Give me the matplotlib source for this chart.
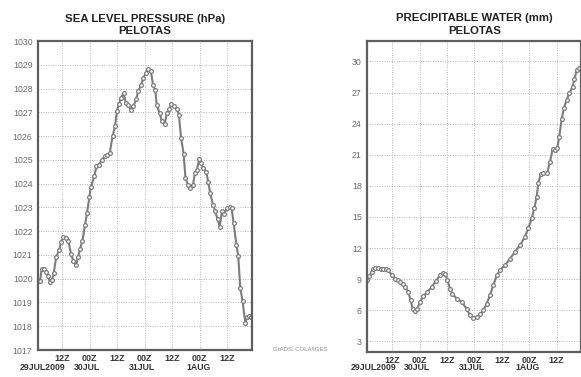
import matplotlib
matplotlib.use('Agg')
import matplotlib.pyplot as plt
import matplotlib.transforms as mtransforms
import numpy as np

plt.rc('font', **{'family': 'sans-serif', 'sans-serif': ['Liberation Sans', 'DejaVu Sans']})

# hours since 29JUL2009 00Z
slp_hours = [1.6, 2.4, 3.1, 4.0, 5.0, 5.9, 6.7, 7.6, 8.4, 9.4, 10.7, 11.7, 12.6, 13.7,
             14.7, 15.9, 16.9, 18.1, 19.0, 19.8, 20.9, 22.0, 22.9, 23.9, 24.5, 26.0,
             27.0, 28.1, 29.3, 30.5, 31.5, 32.8, 34.0, 35.1, 35.9, 36.7, 37.7, 38.8,
             39.8, 40.9, 42.1, 43.1, 44.3, 45.2, 46.4, 47.5, 48.5, 49.5, 50.7, 51.7,
             52.6, 53.3, 54.5, 55.5, 56.7, 57.7, 58.7, 59.7, 60.9, 62.1, 62.9, 63.9,
             65.0, 65.8, 66.9, 67.9, 69.1, 69.9, 70.8, 71.8, 72.7, 73.4, 74.9, 75.7,
             76.6, 77.8, 78.8, 79.8, 80.7, 81.7, 82.7, 83.9, 85.0, 85.9, 86.8, 88.0,
             88.8, 89.7, 90.7, 91.9, 92.6, 93.3, 94.4]
slp = [1019.92, 1019.9, 1020.4, 1020.4, 1020.3, 1020.1, 1019.87, 1019.95, 1020.25,
       1020.9, 1021.2, 1021.56, 1021.75, 1021.7, 1021.6, 1021.05, 1020.76, 1020.58,
       1020.93, 1021.24, 1021.6, 1022.27, 1022.78, 1023.43, 1023.84, 1024.3, 1024.73,
       1024.8, 1024.98, 1025.15, 1025.22, 1025.29, 1025.99, 1026.41, 1027.05, 1027.33,
       1027.61, 1027.82, 1027.4, 1027.29, 1027.08, 1027.26, 1027.54, 1027.89, 1028.13,
       1028.46, 1028.64, 1028.81, 1028.73, 1028.13, 1027.93, 1027.29, 1026.98, 1026.62,
       1026.49, 1026.98, 1027.12, 1027.33, 1027.26, 1027.12, 1026.9, 1025.92, 1025.26,
       1024.24, 1023.95, 1023.81, 1023.95, 1024.45, 1024.59, 1025.04, 1024.87, 1024.66,
       1024.51, 1024.05, 1023.6, 1023.11, 1022.83, 1022.51, 1022.19, 1022.83, 1022.73,
       1022.97, 1023.01, 1022.97, 1022.34, 1021.42, 1020.97, 1019.6, 1019.06, 1018.12,
       1018.4, 1018.43, 1018.4]

pw_hours = [1.05, 2.0, 2.98, 3.7, 4.42, 5.87, 7.0, 8.06, 9.2, 10.25, 11.74, 13.18, 14.3,
            15.37, 16.5, 17.56, 19.01, 20.06, 20.94, 21.94, 22.95, 24.13, 25.58, 27.33,
            29.26, 31.14, 32.89, 34.08, 35.08, 36.09, 37.27, 38.28, 40.21, 42.4, 44.59,
            46.03, 47.48, 48.97, 50.41, 51.86, 53.35, 54.79, 56.24, 57.73, 59.17, 61.36,
            63.55, 65.74, 67.93, 70.12, 71.57, 73.06, 74.2, 75.25, 75.95, 77.0, 78.14,
            79.89, 81.08, 82.26, 83.27, 84.27, 85.15, 86.2, 87.21, 88.39, 89.53, 91.02,
            91.82, 92.83, 94.0]
pw = [8.89, 9.3, 9.69, 9.95, 10.11, 10.08, 10.02, 9.98, 9.95, 9.92, 9.37, 9.05, 8.9,
      8.72, 8.5, 8.24, 7.76, 6.95, 6.15, 5.92, 6.15, 6.79, 7.34, 7.76, 8.24, 8.82, 9.37,
      9.59, 9.47, 8.96, 8.08, 7.6, 7.12, 6.79, 6.15, 5.5, 5.28, 5.34, 5.6, 5.99, 6.63,
      7.44, 8.4, 9.37, 9.86, 10.34, 10.99, 11.62, 12.27, 13.08, 13.89, 14.86, 15.82,
      16.94, 18.24, 19.11, 19.2, 19.26, 20.33, 21.53, 21.46, 21.62, 22.75, 24.43, 25.49,
      26.3, 26.94, 27.58, 28.3, 29.2, 29.36]

xtick_pos = [12, 24, 36, 48, 60, 72, 84]
xtick_lab = ['12Z', '00Z', '12Z', '00Z', '12Z', '00Z', '12Z']
date_pos = [3.7, 23.0, 47.0, 71.5]
date_lab = ['29JUL2009', '30JUL', '31JUL', '1AUG']

line_c = '#7c7c7c'
spine_c = '#5e5e5e'
grid_c = '#b4b4b4'
text_c = '#333333'

fig = plt.figure(figsize=(5.81, 3.77), dpi=100)
ax1 = fig.add_axes([0.0654, 0.0716, 0.3683, 0.8196])
ax2 = fig.add_axes([0.6322, 0.0671, 0.3683, 0.8249])


def style(ax, xlim, ylim, yticks, title):
    ax.set_xlim(*xlim)
    ax.set_ylim(*ylim)
    ax.set_yticks(yticks)
    ax.set_xticks(xtick_pos)
    ax.set_xticklabels(xtick_lab, fontsize=6.5, fontweight='bold', color=text_c)
    ax.tick_params(axis='y', length=0, labelsize=6.3, labelcolor='#6a6a6a', pad=4)
    ax.tick_params(axis='x', length=0, pad=3)
    ax.grid(True, color=grid_c, linestyle=(0, (1, 1.5)), linewidth=0.7)
    for s in ax.spines.values():
        s.set_color(spine_c)
        s.set_linewidth(1.6)
    trans = mtransforms.blended_transform_factory(ax.transData, fig.transFigure)
    for p, l in zip(date_pos, date_lab):
        ax.text(p, 0.024, l, transform=trans, ha='center', va='center',
                fontsize=6.3, fontweight='bold', color=text_c)
    ax.set_title(title, fontsize=8.2, fontweight='bold', color='#222222',
                 linespacing=1.3, pad=5)


ax1.plot(slp_hours, slp, color=line_c, lw=1.5, marker='o', ms=2.7, mfc='white',
         mec=line_c, mew=0.9)
style(ax1, (1.5, 94.8), (1017, 1030), np.arange(1017, 1031, 1),
      'SEA LEVEL PRESSURE (hPa)\nPELOTAS')

ax2.plot(pw_hours, pw, color=line_c, lw=1.5, marker='o', ms=2.7, mfc='white',
         mec=line_c, mew=0.9)
style(ax2, (1.05, 94.8), (2, 32), np.arange(3, 31, 3),
      'PRECIPITABLE WATER (mm)\nPELOTAS')

fig.text(0.47, 0.072, 'GrADS: COLA/IGES', fontsize=4.3, color='#888888',
         ha='left', va='center')

fig.savefig('out.png', dpi=100)
